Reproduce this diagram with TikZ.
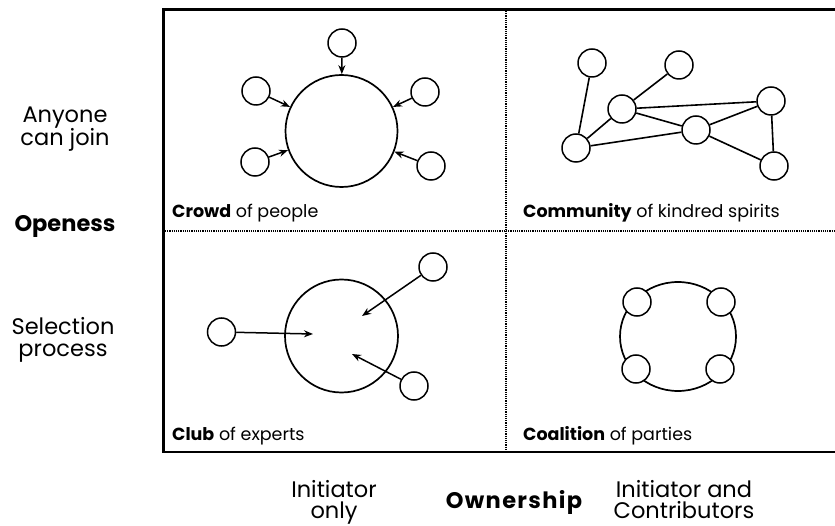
\documentclass[tikz,border=0pt]{standalone}
\usepackage{fontspec}
\setmainfont{Poppins}
\usetikzlibrary{arrows.meta}
\begin{document}
\begin{tikzpicture}[x=1pt,y=-1pt,
  frameline/.style={line width=2.4pt},
  divider/.style={line width=1.8pt,dash pattern=on 1.2pt off 1pt},
  member/.style={circle,draw,line width=1.5pt,minimum size=28pt,inner sep=0pt},
  bigcircle/.style={circle,draw,line width=1.7pt,inner sep=0pt},
  link/.style={line width=1.6pt},
  joins/.style={line width=1.5pt,-{Stealth[length=9pt,width=7pt]}},
  caption/.style={anchor=base west,font=\fontsize{17.5}{18}\selectfont,inner sep=0pt},
  axislabel/.style={anchor=base,align=center,font=\fontsize{22.5}{21}\selectfont,inner sep=0pt},
  axistitle/.style={anchor=base,font=\fontsize{22.5}{23}\selectfont\bfseries,inner sep=0pt}]
\useasboundingbox (0,0) rectangle (835,526);

% quadrant frame and dividers
\draw[frameline] (840,9.5) -- (163.5,9.5) -- (163.5,452) -- (840,452);
\draw[divider] (165,231) -- (835,231);
\draw[divider] (506,11) -- (506,450);

% crowd of people
\node[bigcircle,minimum size=112pt] (crowd) at (341.5,131) {};
\node[member] (c1) at (342,43) {};
\node[member] (c2) at (256,91) {};
\node[member] (c3) at (255,162) {};
\node[member] (c4) at (425,92) {};
\node[member] (c5) at (431,166) {};
\foreach \m in {c1,c2,c3,c4,c5} \draw[joins] (\m) -- (crowd);

% community of kindred spirits
\node[member] (k1) at (592,63) {};
\node[member] (k2) at (679,65) {};
\node[member] (k3) at (622,109) {};
\node[member] (k4) at (771,101) {};
\node[member] (k5) at (696,130) {};
\node[member] (k6) at (576,148) {};
\node[member] (k7) at (774,166) {};
\draw[link] (k1) -- (k6);
\draw[link] (k2) -- (k3);
\draw[link] (k3) -- (k6);
\draw[link] (k3) -- (k4);
\draw[link] (k3) -- (k5);
\draw[link] (k6) -- (k5);
\draw[link] (k5) -- (k4);
\draw[link] (k5) -- (k7);
\draw[link] (k4) -- (k7);

% club of experts
\node[bigcircle,minimum size=113pt] (club) at (341.5,336) {};
\node[member] (e1) at (221.5,332) {};
\node[member] (e2) at (433,267) {};
\node[member] (e3) at (414,386) {};
\coordinate (t1) at (313,334);
\coordinate (t2) at (362,316);
\coordinate (t3) at (352,354);
\draw[joins] (e1) -- (t1);
\draw[joins] (e2) -- (t2);
\draw[joins] (e3) -- (t3);

% coalition of parties
\draw[line width=1.7pt] (678,336.5) ellipse [x radius=58pt,y radius=54.5pt];
\node[member,fill=white] (p1) at (637,302) {};
\node[member,fill=white] (p2) at (721,302) {};
\node[member,fill=white] (p3) at (636,369) {};
\node[member,fill=white] (p4) at (720,369) {};

% quadrant captions
\node[caption] (q1) at (172,218) {\textbf{Crowd} of people};
\node[caption] (q2) at (523,218) {\textbf{Community} of kindred spirits};
\node[caption] (q3) at (172,440) {\textbf{Club} of experts};
\node[caption] (q4) at (523,440) {\textbf{Coalition} of parties};

% axis labels (base anchor sits on the last line)
\node[axislabel] (open1) at (65,146) {Anyone\\can join};
\node[axistitle] (open) at (65,232) {Openess};
\node[axislabel] (open2) at (63,356) {Selection\\process};
\node[axislabel] (own1) at (334,518) {Initiator\\only};
\node[axistitle] (own) at (514,508) {\addfontfeature{LetterSpace=6}Ownership};
\node[axislabel] (own2) at (684,518) {Initiator and\\Contributors};
\end{tikzpicture}
\end{document}
